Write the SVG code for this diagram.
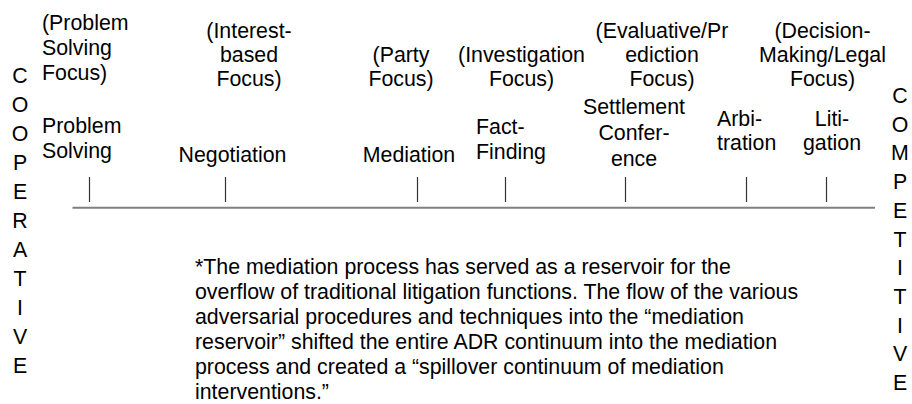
<svg xmlns="http://www.w3.org/2000/svg" width="912" height="404" viewBox="0 0 912 404">
<style>
text{font-family:"Liberation Sans",Arial,sans-serif;font-size:21.33px;fill:#000}
.c{text-anchor:middle}
.axis{stroke:#7f7f7f;stroke-width:2;fill:none}
.tick{stroke:#333;stroke-width:1.2;fill:none}
</style>
<rect width="912" height="404" fill="#fff"/>
<g id="connectors">
<line class="axis" x1="72.5" y1="207.7" x2="875" y2="207.7"/>
<line class="tick" x1="89.5" y1="177" x2="89.5" y2="202"/>
<line class="tick" x1="225.5" y1="177" x2="225.5" y2="202"/>
<line class="tick" x1="417.5" y1="177" x2="417.5" y2="202"/>
<line class="tick" x1="505.5" y1="177" x2="505.5" y2="202"/>
<line class="tick" x1="625.5" y1="177" x2="625.5" y2="202"/>
<line class="tick" x1="746.5" y1="177" x2="746.5" y2="202"/>
<line class="tick" x1="826.5" y1="177" x2="826.5" y2="202"/>
</g>
<g id="cooperative">
<text class="c"><tspan x="20" y="83">C</tspan><tspan x="20" y="112">O</tspan><tspan x="20" y="141">O</tspan><tspan x="20" y="170">P</tspan><tspan x="20" y="199">E</tspan><tspan x="20" y="228">R</tspan><tspan x="20" y="257">A</tspan><tspan x="20" y="286">T</tspan><tspan x="20" y="315">I</tspan><tspan x="20" y="344">V</tspan><tspan x="20" y="373">E</tspan></text>
</g>
<g id="competitive">
<text class="c"><tspan x="900" y="103">C</tspan><tspan x="900" y="131.7">O</tspan><tspan x="900" y="160.4">M</tspan><tspan x="900" y="189.1">P</tspan><tspan x="900" y="217.8">E</tspan><tspan x="900" y="246.5">T</tspan><tspan x="900" y="275.2">I</tspan><tspan x="900" y="303.9">T</tspan><tspan x="900" y="332.6">I</tspan><tspan x="900" y="361.3">V</tspan><tspan x="900" y="390">E</tspan></text>
</g>
<g id="focus-problem">
<text><tspan x="42" y="30">(Problem</tspan><tspan x="42" y="55">Solving</tspan><tspan x="42" y="80">Focus)</tspan></text>
</g>
<g id="focus-interest">
<text class="c"><tspan x="249" y="37.5">(Interest-</tspan><tspan x="249" y="61.5">based</tspan><tspan x="249" y="85.5">Focus)</tspan></text>
</g>
<g id="focus-party">
<text class="c"><tspan x="401" y="61.5">(Party</tspan><tspan x="401" y="85.5">Focus)</tspan></text>
</g>
<g id="focus-investigation">
<text class="c"><tspan x="521.5" y="61.5">(Investigation</tspan><tspan x="521.5" y="85.5">Focus)</tspan></text>
</g>
<g id="focus-evaluative">
<text class="c"><tspan x="662" y="37.5">(Evaluative/Pr</tspan><tspan x="662" y="61.5">ediction</tspan><tspan x="662" y="85.5">Focus)</tspan></text>
</g>
<g id="focus-decision">
<text class="c"><tspan x="822.5" y="37.5">(Decision-</tspan><tspan x="822.5" y="61.5">Making/Legal</tspan><tspan x="822.5" y="85.5">Focus)</tspan></text>
</g>
<g id="problem-solving">
<text><tspan x="42" y="133">Problem</tspan><tspan x="42" y="158">Solving</tspan></text>
</g>
<g id="negotiation">
<text class="c" x="232.5" y="162">Negotiation</text>
</g>
<g id="mediation">
<text class="c" x="409" y="162">Mediation</text>
</g>
<g id="fact-finding">
<text><tspan x="476" y="133.5">Fact-</tspan><tspan x="476" y="158.5">Finding</tspan></text>
</g>
<g id="settlement-conference">
<text class="c"><tspan x="634" y="114">Settlement</tspan><tspan x="634" y="140">Confer-</tspan><tspan x="634" y="166">ence</tspan></text>
</g>
<g id="arbitration">
<text><tspan x="717" y="125.5">Arbi-</tspan><tspan x="717" y="149.5">tration</tspan></text>
</g>
<g id="litigation">
<text class="c"><tspan x="832" y="125.5">Liti-</tspan><tspan x="832" y="149.5">gation</tspan></text>
</g>
<g id="note">
<text><tspan x="195" y="274">*The mediation process has served as a reservoir for the</tspan><tspan x="195" y="299">overflow of traditional litigation functions. The flow of the various</tspan><tspan x="195" y="324">adversarial procedures and techniques into the “mediation</tspan><tspan x="195" y="349">reservoir” shifted the entire ADR continuum into the mediation</tspan><tspan x="195" y="374">process and created a “spillover continuum of mediation</tspan><tspan x="195" y="399">interventions.”</tspan></text>
</g>
</svg>
